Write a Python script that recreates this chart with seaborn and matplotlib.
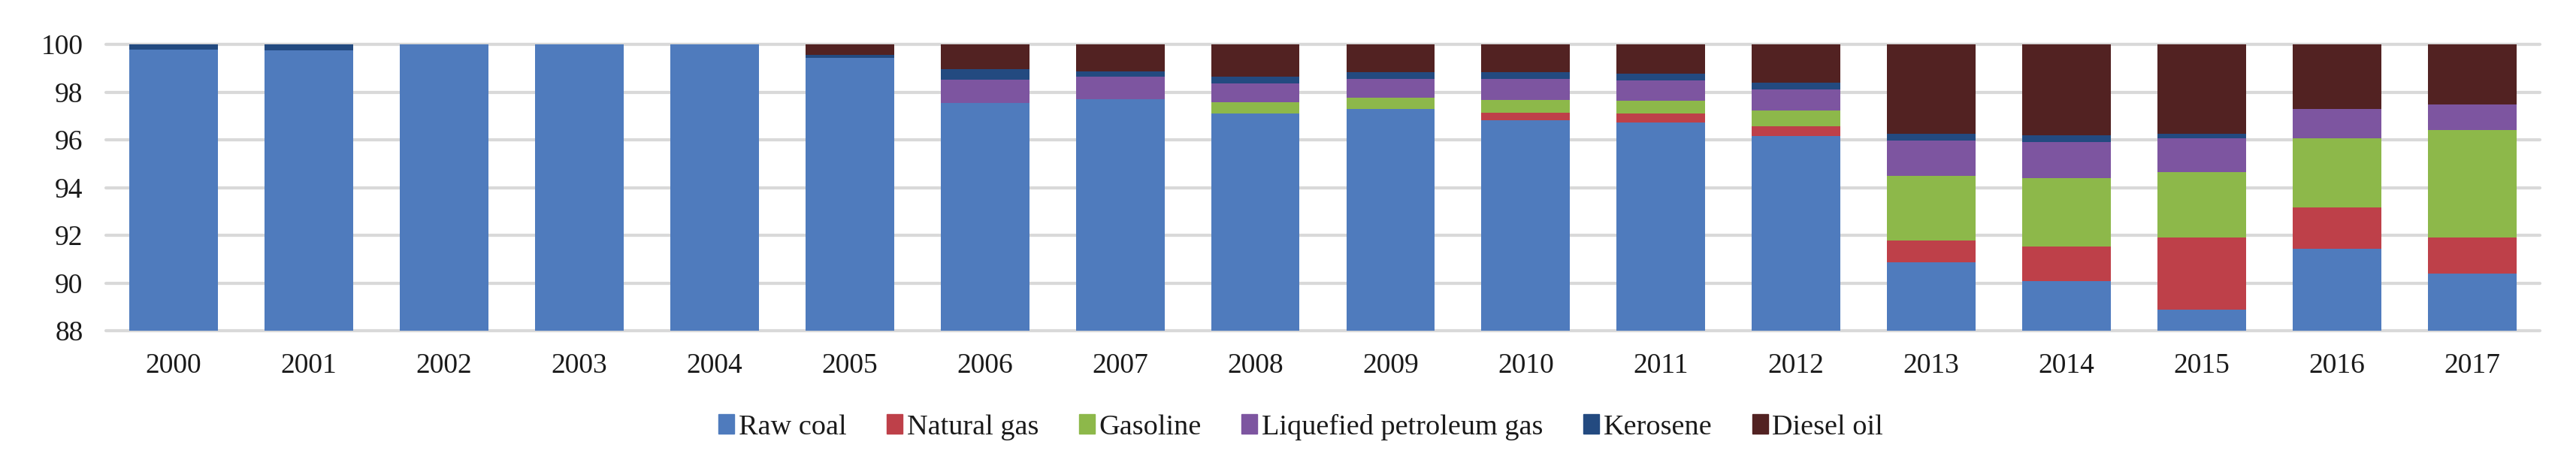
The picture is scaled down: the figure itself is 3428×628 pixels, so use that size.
import matplotlib
matplotlib.use("Agg")
import matplotlib.pyplot as plt
import matplotlib.patches as mpatches
import numpy as np
import pandas as pd
import seaborn as sns

years = [str(y) for y in range(2000, 2018)]

# share of each fuel (%)
raw_coal = [99.78, 99.75, 100.0, 100.0, 100.0, 99.44, 97.54, 97.69, 97.09, 97.28,
            96.81, 96.71, 96.16, 90.88, 90.09, 88.87, 91.42, 90.38]
natural_gas = [0, 0, 0, 0, 0, 0, 0, 0, 0, 0,
               0.33, 0.38, 0.40, 0.91, 1.43, 3.02, 1.74, 1.54]
gasoline = [0, 0, 0, 0, 0, 0, 0, 0, 0.48, 0.48,
            0.53, 0.54, 0.67, 2.71, 2.87, 2.75, 2.90, 4.49]
lpg = [0, 0, 0, 0, 0, 0, 0.98, 0.94, 0.80, 0.79,
       0.88, 0.86, 0.88, 1.47, 1.52, 1.42, 1.23, 1.06]
kerosene = [0.22, 0.25, 0, 0, 0, 0.12, 0.44, 0.25, 0.26, 0.28,
            0.28, 0.29, 0.27, 0.28, 0.27, 0.19, 0, 0]
diesel_oil = [0, 0, 0, 0, 0, 0.44, 1.04, 1.12, 1.37, 1.17,
              1.17, 1.22, 1.62, 3.75, 3.82, 3.75, 2.71, 2.53]

fuels = ["Raw coal", "Natural gas", "Gasoline", "Liquefied petroleum gas", "Kerosene", "Diesel oil"]
colors = ["#4F7BBD", "#BE4049", "#8DB84A", "#7D55A0", "#234A80", "#522222"]

df = pd.DataFrame({"year": years, "Raw coal": raw_coal, "Natural gas": natural_gas,
                   "Gasoline": gasoline, "Liquefied petroleum gas": lpg,
                   "Kerosene": kerosene, "Diesel oil": diesel_oil})

sns.set_theme(style="white")
plt.rcParams['font.family'] = ['Liberation Serif', 'DejaVu Serif']

fig = plt.figure(figsize=(34.28, 6.28), dpi=100)
ax = fig.add_axes([141 / 3428, 1 - 440 / 628, (3380 - 141) / 3428, (440 - 59) / 628])

# cumulative sums, drawn top layer first so lower layers cover them
cum = df[fuels].cumsum(axis=1)
for fuel, c in reversed(list(zip(fuels, colors))):
    sns.barplot(x=df["year"], y=cum[fuel], color=c, saturation=1, width=0.655,
                linewidth=0, edgecolor=c, ax=ax, zorder=3)

ax.set_ylim(88, 100)
ax.set_xlim(-0.5, 17.5)
ax.set_yticks(np.arange(88, 101, 2))
ax.yaxis.grid(True, color="#d9d9d9", linewidth=3, zorder=0)
for gl in ax.get_ygridlines():
    gl.set_clip_on(False)
ax.xaxis.grid(False)
ax.set_axisbelow(True)
for s in ax.spines.values():
    s.set_visible(False)
ax.set_xlabel("")
ax.set_ylabel("")
ax.tick_params(axis="y", length=0, pad=22, labelsize=27, labelcolor="#1a1a1a")
ax.tick_params(axis="x", length=0, pad=21, labelsize=27, labelcolor="#1a1a1a")

handles = [mpatches.Patch(color=c, label=f) for f, c in zip(fuels, colors)]
fig.legend(handles=handles, loc="center", bbox_to_anchor=(0.505, 1 - 568 / 628), ncol=6,
           frameon=False, fontsize=27.5, handlelength=0.55, handleheight=0.65,
           handletextpad=0.15, columnspacing=1.4, labelcolor="#1a1a1a")

fig.savefig("out.png", dpi=100)
